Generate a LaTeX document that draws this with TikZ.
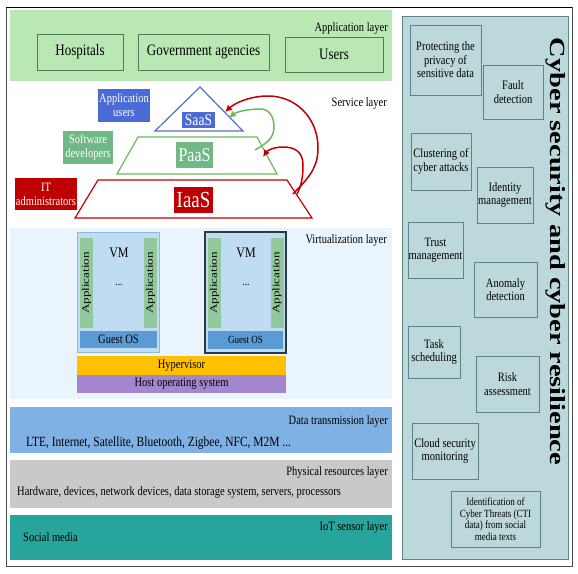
\documentclass[tikz,border=0pt]{standalone}
\usepackage{fontspec}
\setmainfont{Liberation Serif}[FakeStretch=0.82]
\usetikzlibrary{arrows.meta}

\definecolor{appgreen}{HTML}{BAE8B5}
\definecolor{appline}{HTML}{4F7A5C}
\definecolor{saasline}{HTML}{5470C6}
\definecolor{saasfill}{HTML}{4A6BD6}
\definecolor{paasline}{HTML}{6DB85A}
\definecolor{paasfill}{HTML}{70B886}
\definecolor{iaasred}{HTML}{C00000}
\definecolor{virtbg}{HTML}{E9F4FC}
\definecolor{vmblue}{HTML}{C0DCF2}
\definecolor{vmline}{HTML}{8FB8E0}
\definecolor{vmdark}{HTML}{2F3A40}
\definecolor{appstrip}{HTML}{92C99C}
\definecolor{guestblue}{HTML}{5B9BD5}
\definecolor{hyperorange}{HTML}{FFC000}
\definecolor{hostpurple}{HTML}{A386CE}
\definecolor{datablue}{HTML}{80B1E4}
\definecolor{physgray}{HTML}{C9C9C9}
\definecolor{iotteal}{HTML}{27A59D}
\definecolor{cyberbg}{HTML}{BDD8DA}
\definecolor{cyberline}{HTML}{5E8384}

\begin{document}
\begin{tikzpicture}[
  x=1pt, y=-1pt,
  layer/.style={minimum width=382pt, inner sep=0pt},
  layertitle/.style={anchor=east, inner sep=0pt, font=\fontsize{12.8}{14}\selectfont},
  appbox/.style={draw=appline, line width=0.9pt, inner sep=0pt, font=\fontsize{15.9}{17}\selectfont},
  tag/.style={inner sep=0pt, align=center, text=white, font=\fontsize{12.8}{14}\selectfont},
  level/.style={inner sep=0pt, text=white},
  vm/.style={fill=vmblue, draw=vmline, line width=0.8pt, minimum width=82pt, minimum height=120pt, inner sep=0pt},
  strip/.style={fill=appstrip, rotate=90, minimum width=90pt, minimum height=13pt, inner sep=0pt, font=\fontsize{10}{10}\selectfont},
  guest/.style={fill=guestblue, minimum width=77pt, minimum height=17pt, inner sep=0pt},
  base/.style={minimum width=209pt, inner sep=0pt, font=\fontsize{12.8}{14}\selectfont},
  cyb/.style={draw=cyberline, line width=0.8pt, align=center, inner sep=0pt, font=\fontsize{12.8}{13.5}\selectfont},
  up/.style={line width=1.5pt, -{Latex[length=7pt,width=7pt]}}
  ]
	\useasboundingbox (0,0) rectangle (578,573);

	\node[layer, fill=appgreen, minimum height=71pt] (applayer) at (201,45.5) {};
	\node[layertitle] (applabel) at (388,28) {Application layer};
	\node[appbox, minimum width=86pt, minimum height=36pt] (hospitals) at (80,52) {Hospitals};
	\node[appbox, minimum width=131pt, minimum height=36pt] (gov) at (203.5,52) {Government agencies};
	\node[appbox, minimum width=98pt, minimum height=35pt] (users) at (334,54.5) {Users};

	\node[layertitle] (servlabel) at (387,103) {Service layer};
	\draw[saasline, line width=1.2pt] (200,87) -- (243,131) -- (155,131) -- cycle;
	\draw[paasline, line width=1.2pt] (138,137) -- (257,137) -- (277,174) -- (117,174) -- cycle;
	\draw[iaasred, line width=1.2pt] (98,180) -- (287,180) -- (312,218) -- (75,218) -- cycle;

	\node[level, fill=saasfill, minimum width=33pt, minimum height=16pt, font=\fontsize{16.5}{16}\selectfont] (saas) at (198.5,120) {SaaS};
	\node[level, fill=paasfill, minimum width=37pt, minimum height=26pt, font=\fontsize{19.5}{19}\selectfont] (paas) at (194.5,155) {PaaS};
	\node[level, fill=iaasred, minimum width=39pt, minimum height=26pt, font=\fontsize{23}{23}\selectfont] (iaas) at (193.5,200) {IaaS};

	\node[tag, fill=saasfill, minimum width=52pt, minimum height=33pt] (appusers) at (124,105.5) {Application\\users};
	\node[tag, fill=paasfill, minimum width=50pt, minimum height=33pt] (devs) at (88,147.5) {Software\\developers};
	\node[tag, fill=iaasred, minimum width=62pt, minimum height=32pt] (itadmin) at (46,194) {IT\\administrators};

	\coordinate (iaasR1) at (293,194);
	\coordinate (iaasR2) at (297,194);
	\coordinate (paasR) at (263,157);
	\coordinate (paasT) at (255,150);
	\coordinate (saasR1) at (225,112);
	\coordinate (saasR2) at (229,118);

	\draw[up, iaasred] (iaasR1) .. controls (306,180) and (318,170) .. (318,148) .. controls (318,118) and (296,96) .. (268,96) .. controls (250,96) and (235,103) .. (saasR1);
	\draw[up, iaasred] (iaasR2) .. controls (302,185) and (303,175) .. (303,165) .. controls (303,152) and (295,147) .. (283,147) .. controls (273,147) and (267,151) .. (paasR);
	\draw[up, paasline] (paasT) .. controls (268,143) and (274,137) .. (274,127) .. controls (274,115) and (268,109) .. (260,109) .. controls (248,109) and (236,112) .. (saasR2);

	\node[layer, fill=virtbg, minimum height=171pt] (virt) at (201,313.5) {};
	\node[layertitle] (virtlabel) at (387,240) {Virtualization layer};

	\node[vm] (vm1) at (118,292) {};
	\node[strip] (app1a) at (86.5,283) {\scalebox{1.6}[1]{Application}};
	\node[strip] (app1b) at (150.5,283) {\scalebox{1.6}[1]{Application}};
	\node[font=\fontsize{14.6}{14}\selectfont] (vm1name) at (119,253) {VM};
	\node[font=\fontsize{12}{12}\selectfont] (vm1dots) at (119,285) {...};
	\node[guest, font=\fontsize{12.8}{14}\selectfont] (guest1) at (118.5,339.5) {Guest OS};

	\node[vm, draw=vmdark, line width=1.3pt, minimum width=81pt, minimum height=121pt] (vm2) at (245.5,292.5) {};
	\node[strip] (app2a) at (214.5,283) {\scalebox{1.6}[1]{Application}};
	\node[strip] (app2b) at (277,283) {\scalebox{1.6}[1]{Application}};
	\node[font=\fontsize{14.6}{14}\selectfont] (vm2name) at (246,253) {VM};
	\node[font=\fontsize{12}{12}\selectfont] (vm2dots) at (246,285) {...};
	\node[guest, minimum width=75pt, minimum height=18pt, font=\fontsize{11}{12}\selectfont] (guest2) at (245.5,340) {Guest OS};

	\node[base, fill=hyperorange, minimum height=19pt] (hyper) at (181.5,365.5) {Hypervisor};
	\node[base, fill=hostpurple, minimum height=18pt] (host) at (181.5,384) {Host operating system};

	\node[layer, fill=datablue, minimum height=46pt] (data) at (201,430) {};
	\node[layertitle] (datalabel) at (388,421) {Data transmission layer};
	\node[anchor=west, inner sep=0pt, font=\fontsize{14}{15}\selectfont] (datatext) at (26,443) {LTE, Internet, Satellite, Bluetooth, Zigbee, NFC, M2M ...};

	\node[layer, fill=physgray, minimum height=48pt] (phys) at (201,484) {};
	\node[layertitle] (physlabel) at (388,472) {Physical resources layer};
	\node[anchor=west, inner sep=0pt, font=\fontsize{12.8}{14}\selectfont] (phystext) at (17,492) {Hardware, devices, network devices, data storage system, servers, processors};

	\node[layer, fill=iotteal, minimum height=45pt] (iot) at (201,537.5) {};
	\node[layertitle] (iotlabel) at (388,527) {IoT sensor layer};
	\node[anchor=west, inner sep=0pt, font=\fontsize{12.8}{14}\selectfont] (iottext) at (23,537) {Social media};

	\node[fill=cyberbg, draw=cyberline, line width=0.8pt, minimum width=166pt, minimum height=543pt, inner sep=0pt] (cyber) at (485,287.5) {};
	\node[rotate=-90, inner sep=0pt] (cybertitle) at (556,251.5) {\resizebox{427pt}{15pt}{\bfseries Cyber security and cyber resilience}};

	\node[cyb, minimum width=71pt, minimum height=70pt] (privacy) at (445.5,60) {Protecting the\\privacy of\\sensitive data};
	\node[cyb, minimum width=60pt, minimum height=54pt] (fault) at (513,92) {Fault\\detection};
	\node[cyb, minimum width=60pt, minimum height=57pt] (cluster) at (441,161.5) {Clustering of\\cyber attacks};
	\node[cyb, minimum width=56pt, minimum height=56pt] (identity) at (505,195) {Identity\\management};
	\node[cyb, minimum width=55pt, minimum height=56pt] (trust) at (435.5,250) {Trust\\management};
	\node[cyb, minimum width=63pt, minimum height=55pt] (anomaly) at (505.5,289.5) {Anomaly\\detection};
	\node[cyb, minimum width=52pt, minimum height=52pt] (task) at (434,352) {Task\\scheduling};
	\node[cyb, minimum width=63pt, minimum height=56pt] (risk) at (507.5,384) {Risk\\assessment};
	\node[cyb, minimum width=66pt, minimum height=56pt] (cloud) at (445,451) {Cloud security\\monitoring};
	\node[cyb, minimum width=89pt, minimum height=56pt, font=\fontsize{11}{11.5}\selectfont] (cti) at (495.5,519) {Identification of\\Cyber Threats (CTI\\data) from social\\media texts};

	\draw[gray!60!black, line width=0.8pt] (6,7) rectangle (572,566);
	\draw[black, line width=1pt] (6,7) -- (572,7);
\end{tikzpicture}
\end{document}
